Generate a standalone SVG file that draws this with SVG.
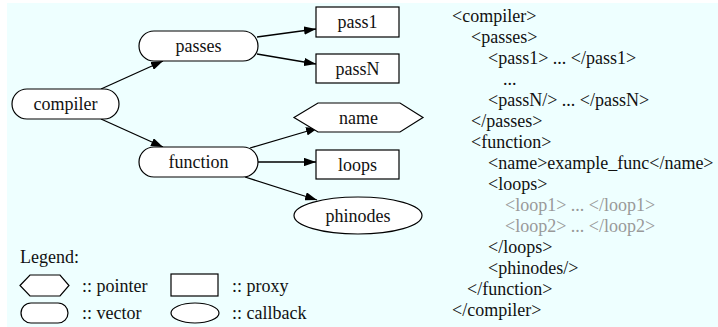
<svg xmlns="http://www.w3.org/2000/svg" width="718" height="327" viewBox="0 0 718 327">
  <style>
    .bg { fill: #eeffff; }
    .shape { fill: #ffffff; stroke: #000000; stroke-width: 1.2; }
    .edge { fill: none; stroke: #000000; stroke-width: 1.3; }
    .mid { text-anchor: middle; }
    .dim { fill: #999999; }
  </style>
  <defs>
    <marker id="arrow" viewBox="0 0 10 7" refX="10" refY="3.5" markerWidth="12" markerHeight="8.4" markerUnits="userSpaceOnUse" orient="auto">
      <path d="M0,0 L10,3.5 L0,7 z" fill="#000000"/>
    </marker>
  </defs>

  <rect class="bg" x="7" y="3" width="711" height="324"/>

  <!-- connectors -->
  <g id="edges">
    <line class="edge" x1="101" y1="89" x2="163" y2="61" marker-end="url(#arrow)"/>
    <line class="edge" x1="101" y1="119" x2="163" y2="147" marker-end="url(#arrow)"/>
    <line class="edge" x1="257" y1="37" x2="316" y2="29" marker-end="url(#arrow)"/>
    <line class="edge" x1="257" y1="54" x2="316" y2="64" marker-end="url(#arrow)"/>
    <line class="edge" x1="250" y1="148" x2="318" y2="128" marker-end="url(#arrow)"/>
    <line class="edge" x1="258" y1="162" x2="316" y2="162" marker-end="url(#arrow)"/>
    <line class="edge" x1="245" y1="177" x2="317" y2="200" marker-end="url(#arrow)"/>
  </g>

  <g font-family="'Liberation Serif', 'Times New Roman', 'DejaVu Serif', serif" font-size="18" fill="#111111">
  <!-- nodes -->
  <g id="compiler">
    <rect class="shape" x="12" y="89" width="107" height="30" rx="15"/>
    <text class="mid" x="65.5" y="110">compiler</text>
  </g>
  <g id="passes">
    <rect class="shape" x="139" y="31" width="119" height="30" rx="15"/>
    <text class="mid" x="198.5" y="52">passes</text>
  </g>
  <g id="function">
    <rect class="shape" x="139" y="147" width="119" height="30" rx="15"/>
    <text class="mid" x="198.5" y="168">function</text>
  </g>
  <g id="pass1">
    <rect class="shape" x="316" y="7" width="83" height="30"/>
    <text class="mid" x="357.5" y="28">pass1</text>
  </g>
  <g id="passN">
    <rect class="shape" x="316" y="54" width="83" height="29"/>
    <text class="mid" x="357.5" y="75">passN</text>
  </g>
  <g id="name">
    <polygon class="shape" points="294,117.5 318,103 400,103 423,117.5 400,132 318,132"/>
    <text class="mid" x="358.5" y="124">name</text>
  </g>
  <g id="loops">
    <rect class="shape" x="316" y="150" width="83" height="29"/>
    <text class="mid" x="357.5" y="171">loops</text>
  </g>
  <g id="phinodes">
    <ellipse class="shape" cx="358" cy="215.5" rx="64" ry="18.5"/>
    <text class="mid" x="358" y="222">phinodes</text>
  </g>

  <!-- legend -->
  <g id="legend">
    <text x="20" y="263">Legend:</text>
    <polygon class="shape" points="20,285.5 30,275 60,275 69,285.5 60,296 30,296"/>
    <text x="82" y="292">:: pointer</text>
    <rect class="shape" x="171" y="274" width="47" height="22"/>
    <text x="232" y="292">:: proxy</text>
    <rect class="shape" x="21" y="303" width="47" height="20" rx="10"/>
    <text x="82" y="319">:: vector</text>
    <ellipse class="shape" cx="195" cy="313" rx="24" ry="10"/>
    <text x="232" y="319">:: callback</text>
  </g>

  <!-- xml outline -->
  <g id="xml">
    <text x="452" y="22">&lt;compiler&gt;</text>
    <text x="471" y="43">&lt;passes&gt;</text>
    <text x="488" y="64">&lt;pass1&gt; ... &lt;/pass1&gt;</text>
    <text x="503" y="85">...</text>
    <text x="488" y="106">&lt;passN/&gt; ... &lt;/passN&gt;</text>
    <text x="471" y="127">&lt;/passes&gt;</text>
    <text x="471" y="148">&lt;function&gt;</text>
    <text x="488" y="169">&lt;name&gt;example_func&lt;/name&gt;</text>
    <text x="488" y="190">&lt;loops&gt;</text>
    <text class="dim" x="505" y="211">&lt;loop1&gt; ... &lt;/loop1&gt;</text>
    <text class="dim" x="505" y="232">&lt;loop2&gt; ... &lt;/loop2&gt;</text>
    <text x="488" y="253">&lt;/loops&gt;</text>
    <text x="488" y="274">&lt;phinodes/&gt;</text>
    <text x="467" y="295">&lt;/function&gt;</text>
    <text x="452" y="316">&lt;/compiler&gt;</text>
  </g>
  </g>
</svg>
